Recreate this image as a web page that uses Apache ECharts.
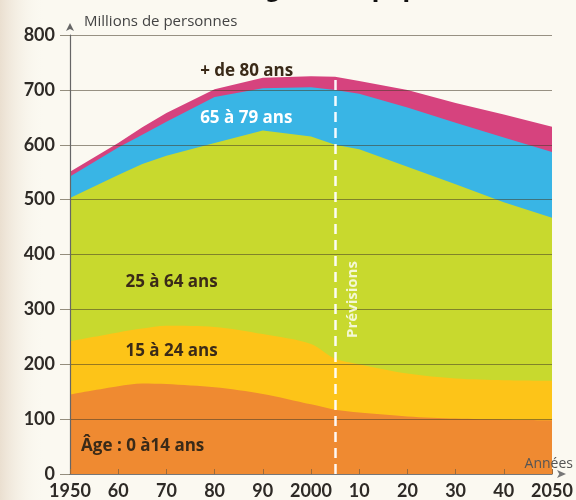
<!DOCTYPE html>
<html>
<head>
<meta charset="utf-8">
<script src="https://cdn.jsdelivr.net/npm/echarts@6/dist/echarts.min.js"></script>
<style>html,body{margin:0;padding:0;background:#fbf9f1}#c{width:576px;height:500px}</style>
</head>
<body>
<div id="c"></div>
<script>
// Années (axe des x)
const years = [1950, 1960, 1965, 1970, 1980, 1990, 2000, 2005, 2010, 2020, 2030, 2040, 2050];
// Millions de personnes par tranche d'âge
const age0to14  = [145, 160, 165, 164, 158, 146, 127, 117, 112, 105, 101, 99, 98];
const age15to24 = [97, 98, 100, 106, 110, 109, 110, 93, 88, 78, 73, 72, 72];
const age25to64 = [261, 287, 300, 310, 335, 371, 378, 390, 392, 377, 354, 324, 297];
const age65to79 = [39, 50, 53, 62, 84, 77, 90, 100, 101, 108, 112, 118, 120];
const age80plus = [9, 8, 14, 16, 14, 19, 20, 24, 23, 32, 36, 42, 46];
const seriesNames = ['Âge : 0 à14 ans', '15 à 24 ans', '25 à 64 ans', '65 à 79 ans', '+ de 80 ans'];
const yTicks = [0, 100, 200, 300, 400, 500, 600, 700, 800];
const xTicks = [1950, 1960, 1970, 1980, 1990, 2000, 2010, 2020, 2030, 2040, 2050];
const forecastYear = 2005;
const forecastTop = 724;

const colors = ['#ef8a31', '#fdc418', '#c8d92e', '#39b5e5', '#d6437e'];
const smoothness = [0.3, 0.3, 0, 0, 0];
const allValues = [age0to14, age15to24, age25to64, age65to79, age80plus];
const font = 'Lato, "Open Sans", sans-serif';
const labelFont = '"Open Sans", Lato, sans-serif';

// cumulative totals (stacking done here because both axes are value axes)
const cumulative = [];
allValues.forEach((vals, i) => {
  cumulative.push(vals.map((v, j) => v + (i > 0 ? cumulative[i - 1][j] : 0)));
});

const labelStyle = (c) => ({ show: true, position: 'right', distance: 0, color: c, fontFamily: labelFont, fontWeight: 'bold', fontSize: 17 });

// draw from the top band down so each lower band covers the one above it
const series = [];
for (let i = allValues.length - 1; i >= 0; i--) {
  series.push({
    name: seriesNames[i],
    type: 'line',
    data: years.map((y, j) => [y, cumulative[i][j]]),
    symbol: 'none',
    smooth: smoothness[i],
    lineStyle: { width: 0 },
    areaStyle: { color: colors[i], opacity: 1, origin: 'start' },
    z: 2
  });
}

const last = series[series.length - 1];
last.markPoint = {
  symbol: 'circle', symbolSize: 0, silent: true,
  data: [
    { coord: [1952.3, 51], label: labelStyle('#3a2a18'), value: seriesNames[0] },
    { coord: [1961.5, 224], label: labelStyle('#3a2a18'), value: seriesNames[1] },
    { coord: [1961.5, 349], label: labelStyle('#3a2a18'), value: seriesNames[2] },
    { coord: [1977, 649], label: labelStyle('#ffffff'), value: seriesNames[3] },
    { coord: [1977, 735], label: labelStyle('#3a2a18'), value: seriesNames[4] },
    { coord: [2008.6, 318], label: { show: true, position: 'inside', rotate: 90, color: 'rgba(255,255,255,0.8)', fontFamily: labelFont, fontWeight: 'bold', fontSize: 15 }, value: 'Prévisions' }
  ],
  label: { formatter: p => p.value }
};
last.markLine = {
  symbol: 'none', silent: true,
  lineStyle: { color: '#ffffff', width: 2.5, type: [10, 6], opacity: 0.95 },
  label: { show: false },
  data: [[{ coord: [forecastYear, 0] }, { coord: [forecastYear, forecastTop] }]]
};

const chart = echarts.init(document.getElementById('c'), null, { renderer: 'canvas' });
chart.setOption({
  backgroundColor: '#fbf9f1',
  animation: false,
  title: {
    text: 'Âge de la population',
    left: 243, top: -24,
    textStyle: { fontFamily: 'DejaVu Sans', fontWeight: 'bold', fontSize: 22, color: '#111' }
  },
  graphic: [{
    type: 'rect', left: 0, top: 0, shape: { width: 45, height: 500 }, silent: true, z: -10,
    style: { fill: new echarts.graphic.LinearGradient(0, 0, 1, 0, [{ offset: 0, color: '#eadfd0' }, { offset: 1, color: 'rgba(251,249,241,0)' }]) }
  }],
  grid: { left: 70, right: 21, top: 35, bottom: 25, containLabel: false },
  xAxis: {
    type: 'value', min: xTicks[0], max: xTicks[xTicks.length - 1], interval: 10,
    z: 3,
    name: 'Années', nameLocation: 'end', nameGap: 21,
    nameTextStyle: { align: 'right', verticalAlign: 'bottom', padding: [0, 0, 3, 0], fontFamily: labelFont, fontSize: 14, color: '#555' },
    axisLine: { show: true, lineStyle: { color: '#777', width: 1.2 }, symbol: ['none', 'arrow'], symbolSize: [6, 9], symbolOffset: [0, 14] },
    axisTick: { show: true, inside: true, length: 5, lineStyle: { color: '#9a6a3a' } },
    splitLine: { show: false },
    axisLabel: {
      margin: 8, fontFamily: font, fontWeight: 'bold', fontSize: 18, color: '#2e2a26',
      formatter: v => (v === 1950 || v === 2000 || v === 2050) ? String(v) : String(v % 100).replace(/^0(\d)$/, '$1')
    }
  },
  yAxis: {
    type: 'value', min: yTicks[0], max: yTicks[yTicks.length - 1], interval: 100,
    z: 3,
    name: 'Millions de personnes', nameLocation: 'end', nameGap: 6,
    nameTextStyle: { align: 'left', verticalAlign: 'bottom', padding: [0, 0, 0, 14], fontFamily: labelFont, fontSize: 15, color: '#444' },
    axisLine: { show: true, lineStyle: { color: '#666', width: 1.2 }, symbol: ['none', 'arrow'], symbolSize: [6, 8], symbolOffset: [0, 12] },
    axisTick: { show: true, length: 10, lineStyle: { color: 'rgba(80,70,50,0.6)' } },
    splitLine: { show: true, lineStyle: { color: 'rgba(70,60,40,0.55)', width: 1 } },
    axisLabel: { margin: 15, fontFamily: font, fontWeight: 'bold', fontSize: 18, color: '#2e2a26' }
  },
  series: series
});
</script>
</body>
</html>
